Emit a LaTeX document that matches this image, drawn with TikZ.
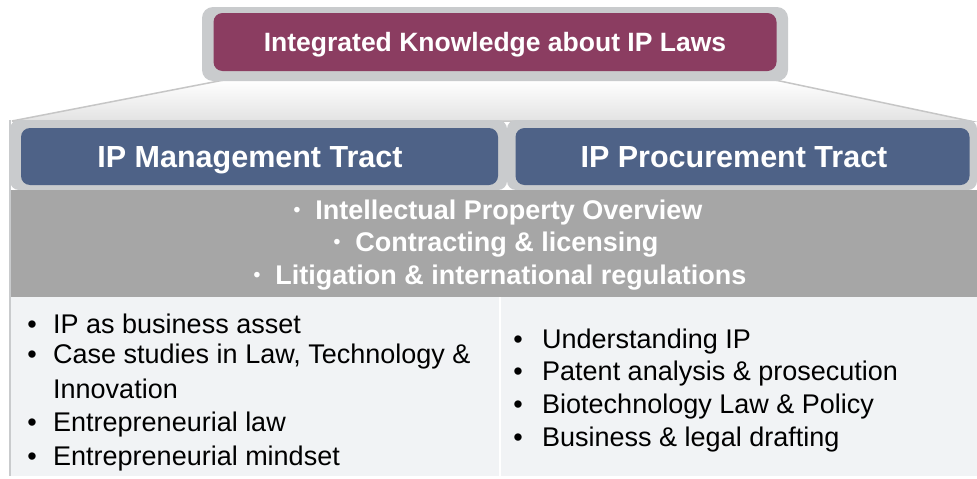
\documentclass[tikz,border=0pt]{standalone}
\usepackage{fontspec}
\setmainfont{Liberation Sans}
\definecolor{maroon}{HTML}{8B3D61}
\definecolor{tractblue}{HTML}{4E6287}
\definecolor{framegray}{HTML}{C9CBCD}
\definecolor{bandgray}{HTML}{A6A6A6}
\definecolor{paleback}{HTML}{F1F3F5}
\begin{document}
\begin{tikzpicture}[x=1pt,y=-1pt,
  titlebox/.style={fill=maroon, rounded corners=9pt, minimum width=563pt, minimum height=58pt, text=white, font=\bfseries\fontsize{26.5}{30}\selectfont, text height=19pt, text depth=0pt, inner sep=0pt},
  tractbox/.style={fill=tractblue, rounded corners=9pt, minimum height=57pt, inner sep=0pt},
  tracttext/.style={text=white, font=\bfseries\fontsize{30.5}{34}\selectfont, text height=21.8pt, text depth=0pt, inner sep=0pt},
  bandtext/.style={text=white, font=\bfseries\fontsize{27}{30}\selectfont, text height=19.3pt, text depth=0pt, inner sep=0pt},
  bul/.style={text=black, font=\fontsize{27}{31}\selectfont, text height=19.3pt, text depth=0pt, inner sep=0pt},
  itemtext/.style={bul, anchor=west}
]
\useasboundingbox (0,0) rectangle (977,479);
\fill[white] (0,0) rectangle (977,479);
% connecting trapezoid
\shade[top color=white, bottom color=gray!22, draw=gray!45, line width=1.5pt]
  (224,80) -- (775,80) -- (970,121) -- (12,121) -- cycle;
% top frame and title
\fill[framegray, rounded corners=11pt] (202,7) rectangle (788,81);
\node[titlebox] (title) at (495,42) {Integrated Knowledge about IP Laws};
% tract frames
\fill[framegray, rounded corners=9pt] (10,120) rectangle (507,190);
\fill[framegray, rounded corners=9pt] (507,120) rectangle (977,190);
\node[tractbox, minimum width=477pt] (mgmt) at (259.5,156.5) {};
\node[tractbox, minimum width=454pt] (proc) at (742.5,156.5) {};
\node[tracttext] (mgmtlabel) at (250,156.5) {IP Management Tract};
\node[tracttext] (proclabel) at (734,156.5) {IP Procurement Tract};
% common band
\fill[bandgray] (10,190) rectangle (977,297);
\node[bandtext] (c1) at (498,210) {\raisebox{0.2ex}{\scalebox{0.72}{•}}\hspace{0.55em}Intellectual Property Overview};
\node[bandtext] (c2) at (496,242) {\raisebox{0.2ex}{\scalebox{0.72}{•}}\hspace{0.55em}Contracting \& licensing};
\node[bandtext] (c3) at (500,275) {\raisebox{0.2ex}{\scalebox{0.72}{•}}\hspace{0.55em}Litigation \& international regulations};
% lower columns
\fill[paleback] (10,297) rectangle (977,476);
\draw[white, line width=1.5pt] (500,297) -- (500,476);
\draw[framegray, line width=2pt] (10,120) -- (10,476);
% left column
\node[bul] (lb1) at (32,324) {•};
\node[itemtext] (l1) at (53,324) {IP as business asset};
\node[bul] (lb2) at (32,354) {•};
\node[itemtext] (l2) at (53,354) {Case studies in Law, Technology \&};
\node[itemtext] (l2b) at (53,389) {Innovation};
\node[bul] (lb3) at (32,422) {•};
\node[itemtext] (l3) at (53,422) {Entrepreneurial law};
\node[bul] (lb4) at (32,456) {•};
\node[itemtext] (l4) at (53,456) {Entrepreneurial mindset};
% right column
\node[bul] (rb1) at (518,339) {•};
\node[itemtext] (r1) at (542,339) {Understanding IP};
\node[bul] (rb2) at (518,371) {•};
\node[itemtext] (r2) at (542,371) {Patent analysis \& prosecution};
\node[bul] (rb3) at (518,404) {•};
\node[itemtext] (r3) at (542,404) {Biotechnology Law \& Policy};
\node[bul] (rb4) at (518,437) {•};
\node[itemtext] (r4) at (542,437) {Business \& legal drafting};
\end{tikzpicture}
\end{document}
